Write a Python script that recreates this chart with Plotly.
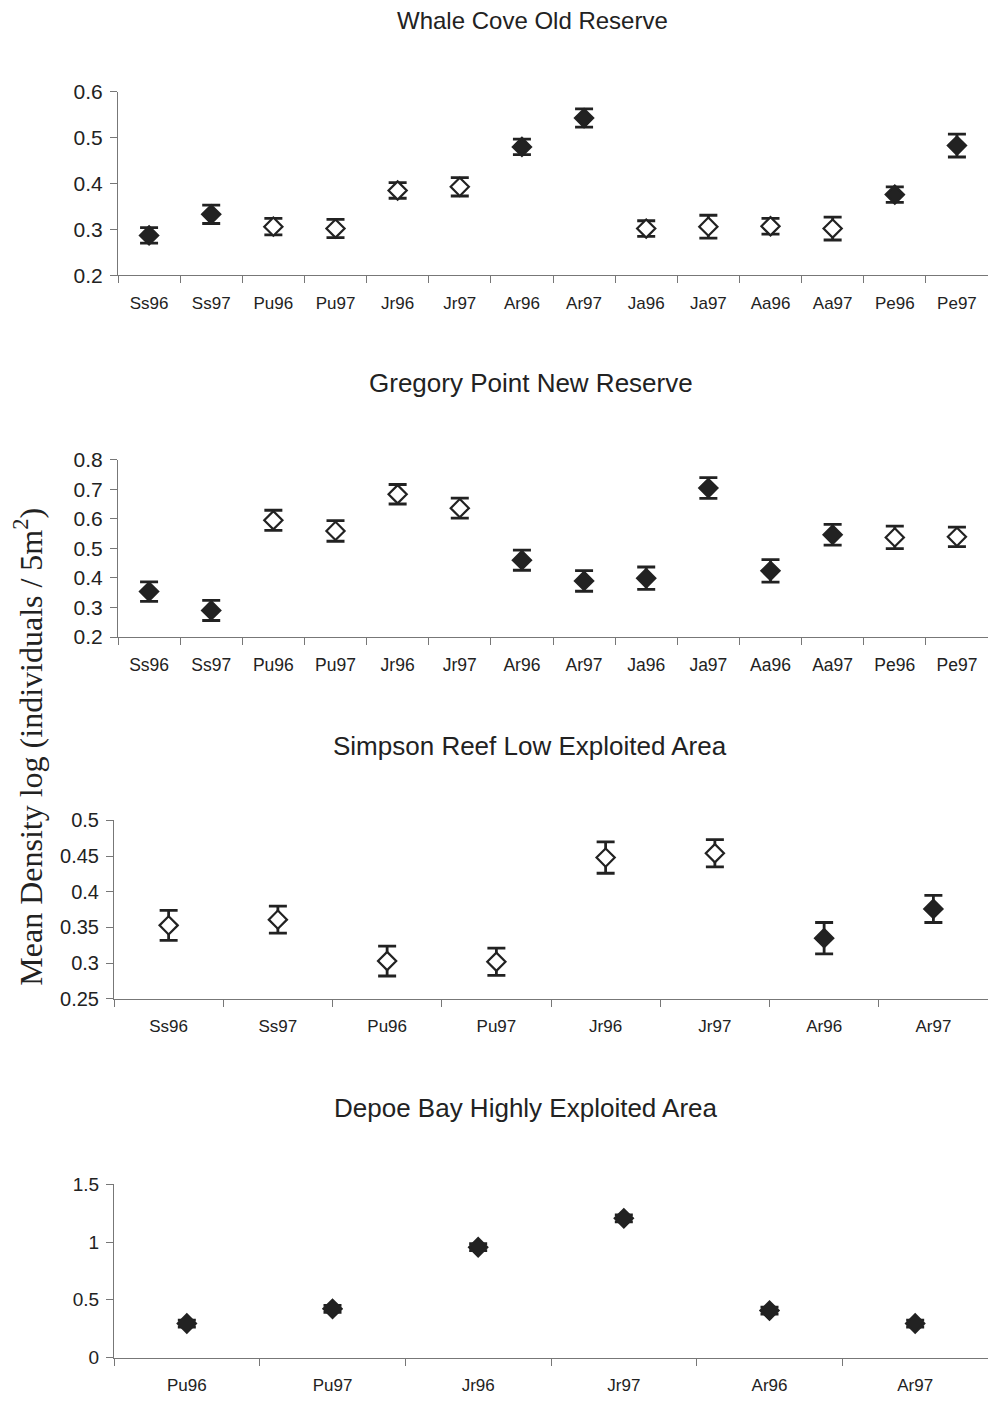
import plotly.graph_objects as go
from plotly.subplots import make_subplots

# --- Dados ---
# Whale Cove Old Reserve
wc_cats = ["Ss96", "Ss97", "Pu96", "Pu97", "Jr96", "Jr97", "Ar96", "Ar97",
           "Ja96", "Ja97", "Aa96", "Aa97", "Pe96", "Pe97"]
wc_mean = [0.287, 0.333, 0.306, 0.302, 0.385, 0.393, 0.480, 0.543,
           0.302, 0.306, 0.307, 0.302, 0.376, 0.483]
wc_err = [0.017, 0.020, 0.018, 0.020, 0.017, 0.020, 0.017, 0.020,
          0.017, 0.025, 0.017, 0.025, 0.017, 0.025]
wc_filled = [1, 1, 0, 0, 0, 0, 1, 1, 0, 0, 0, 0, 1, 1]

# Gregory Point New Reserve
gp_cats = ["Ss96", "Ss97", "Pu96", "Pu97", "Jr96", "Jr97", "Ar96", "Ar97",
           "Ja96", "Ja97", "Aa96", "Aa97", "Pe96", "Pe97"]
gp_mean = [0.354, 0.290, 0.595, 0.559, 0.683, 0.636, 0.460, 0.390,
           0.399, 0.704, 0.424, 0.546, 0.537, 0.539]
gp_err = [0.033, 0.034, 0.034, 0.035, 0.033, 0.034, 0.034, 0.035,
          0.038, 0.035, 0.038, 0.035, 0.038, 0.033]
gp_filled = [1, 1, 0, 0, 0, 0, 1, 1, 1, 1, 1, 1, 0, 0]

# Simpson Reef Low Exploited Area
sr_cats = ["Ss96", "Ss97", "Pu96", "Pu97", "Jr96", "Jr97", "Ar96", "Ar97"]
sr_mean = [0.353, 0.361, 0.303, 0.302, 0.448, 0.454, 0.335, 0.376]
sr_err = [0.021, 0.019, 0.021, 0.019, 0.022, 0.019, 0.022, 0.019]
sr_filled = [0, 0, 0, 0, 0, 0, 1, 1]

# Depoe Bay Highly Exploited Area
db_cats = ["Pu96", "Pu97", "Jr96", "Jr97", "Ar96", "Ar97"]
db_mean = [0.295, 0.422, 0.955, 1.205, 0.407, 0.295]
db_err = [0.030, 0.030, 0.030, 0.030, 0.030, 0.030]
db_filled = [1, 1, 1, 1, 1, 1]

titulos = ["Whale Cove Old Reserve", "Gregory Point New Reserve",
           "Simpson Reef Low Exploited Area", "Depoe Bay Highly Exploited Area"]

paineis = [
    (wc_cats, wc_mean, wc_err, wc_filled, [0.2, 0.6], 0.1),
    (gp_cats, gp_mean, gp_err, gp_filled, [0.2, 0.8], 0.1),
    (sr_cats, sr_mean, sr_err, sr_filled, [0.25, 0.5], 0.05),
    (db_cats, db_mean, db_err, db_filled, [0, 1.5], 0.5),
]

# A página tem margem de 8px no body: a figura fica 16px menor
M = 8
W, H = 996 - 2 * M, 1403 - 2 * M
# posições desejadas (pixels da imagem final) de cada área de gráfico
areas_y = [(93, 277), (462, 640), (824, 1003), (1189, 1363)]
areas_x = [(118, 994), (118, 994), (114, 990), (114, 990)]
titulos_y = [15, 385, 749, 1113]
titulos_x = [532, 531, 530, 526]
titulos_tam = [24, 26, 26, 26]
ytick_tam = [21, 21, 20, 19]
xtick_tam = [17, 17.5, 17, 17]

escuro = "#222222"
eixo = "#777777"


def fx(px):
    # pixel da imagem -> fração horizontal da figura
    return min(1.0, max(0.0, (px - M) / W))


def fy(py):
    # pixel da imagem -> fração vertical (correção empírica do enquadramento)
    t = (py - 0.44) / 0.99528
    v = (t - 20.5) / 0.9827
    return min(1.0, max(0.0, 1 - v / H))


fig = make_subplots(rows=4, cols=1)

for i, (cats, media, erro, cheio, yr, dt) in enumerate(paineis):
    row = i + 1
    for tipo in (1, 0):
        idx = [k for k, f in enumerate(cheio) if f == tipo]
        if not idx:
            continue
        fig.add_trace(go.Scatter(
            x=[cats[k] for k in idx],
            y=[media[k] for k in idx],
            mode="markers",
            marker=dict(symbol="diamond", size=14,
                        color=escuro if tipo == 1 else "white",
                        line=dict(color=escuro, width=2.2)),
            error_y=dict(type="data", array=[erro[k] for k in idx],
                         color=escuro, thickness=2.8, width=9),
            showlegend=False,
        ), row=row, col=1)

    x0, x1 = areas_x[i]
    y0, y1 = areas_y[i]
    fig.update_xaxes(
        domain=[fx(x0), fx(x1)],
        categoryorder="array", categoryarray=cats,
        range=[-0.5, len(cats) - 0.5],
        tickson="boundaries", ticks="outside", ticklen=7, tickcolor=eixo,
        ticklabelstandoff=12,
        showline=True, linecolor=eixo, linewidth=1,
        showgrid=False, zeroline=False,
        tickfont=dict(family="Liberation Sans, Arial", size=xtick_tam[i], color=escuro),
        row=row, col=1)
    fig.update_yaxes(
        domain=[fy(y1), fy(y0)],
        range=yr, dtick=dt, tick0=yr[0],
        ticks="outside", ticklen=7, tickcolor=eixo,
        ticklabelstandoff=3,
        showline=True, linecolor=eixo, linewidth=1,
        showgrid=False, zeroline=False,
        tickfont=dict(family="Liberation Sans, Arial", size=ytick_tam[i], color=escuro),
        row=row, col=1)

    fig.add_annotation(
        text=titulos[i], xref="paper", yref="paper",
        x=fx(titulos_x[i]), y=fy(titulos_y[i]),
        xanchor="center", yanchor="middle", showarrow=False,
        font=dict(family="Liberation Sans, Arial", size=titulos_tam[i], color=escuro))

fig.add_annotation(
    text="Mean Density log (individuals / 5m<sup>2</sup>)",
    xref="paper", yref="paper", x=fx(28), y=fy(750),
    xanchor="center", yanchor="middle", textangle=-90, showarrow=False,
    font=dict(family="Liberation Serif, Times New Roman", size=32, color=escuro))

fig.update_layout(
    width=W, height=H,
    margin=dict(l=0, r=0, t=0, b=0),
    paper_bgcolor="white", plot_bgcolor="white",
)

fig.write_html("out.html")
